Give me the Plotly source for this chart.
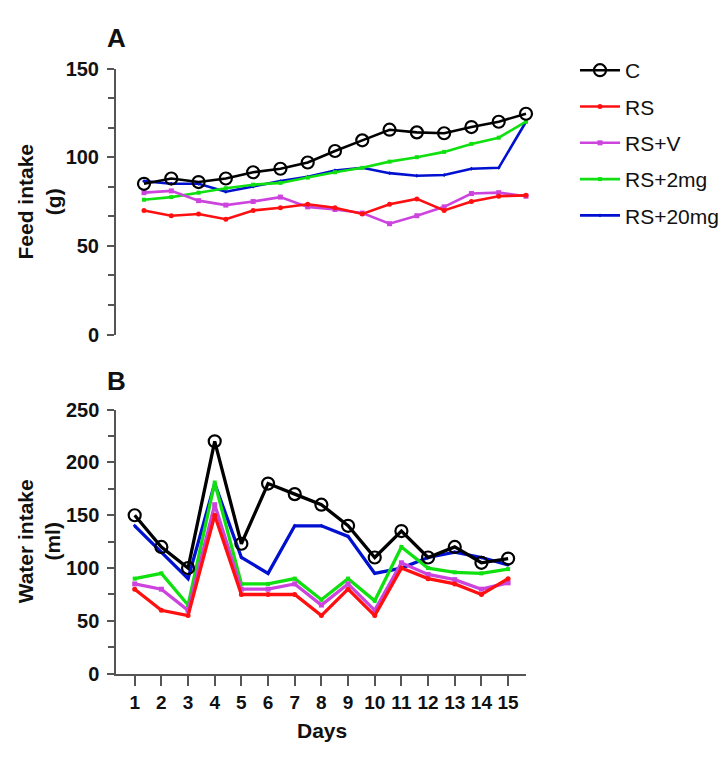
import plotly.graph_objects as go

days = list(range(1, 16))
series_names = ["C", "RS", "RS+V", "RS+2mg", "RS+20mg"]

# Panel A: Feed intake (g)
feed_C = [85, 88, 86, 88, 91.5, 93.5, 97, 103.5, 109.5, 115.5, 114, 113.5, 117, 120, 124.5]
feed_RS = [70, 67, 68, 65, 70, 71.5, 73.5, 71.5, 68, 73.5, 76.5, 70, 75, 78, 78.5]
feed_RSV = [80, 81, 75.5, 73, 75, 77.5, 72, 70.5, 68.5, 62.5, 67, 72, 79.5, 80, 78]
feed_RS2 = [76, 77.5, 80, 82.5, 84.5, 85.5, 88.5, 91.5, 94, 97.5, 100, 103, 107.5, 111, 120]
feed_RS20 = [86.5, 85, 85, 80.5, 83.5, 86.5, 89, 92.5, 94, 91, 89.5, 90, 93.5, 94, 120]

# Panel B: Water intake (ml)
water_C = [150, 120, 100, 220, 123, 180, 170, 160, 140, 110, 135, 110, 120, 105, 109]
water_RS = [80, 60, 55, 150, 75, 75, 75, 55, 80, 55, 100, 90, 85, 75, 90]
water_RSV = [85, 80, 60, 160, 80, 80, 85, 65, 85, 60, 105, 94, 89, 80, 86]
water_RS2 = [90, 95, 65, 181, 85, 85, 90, 70, 90, 69, 120, 100, 96, 95, 99]
water_RS20 = [140, 115, 90, 180, 110, 95, 140, 140, 130, 95, 100, 110, 115, 110, 103]

feed = [feed_C, feed_RS, feed_RSV, feed_RS2, feed_RS20]
water = [water_C, water_RS, water_RSV, water_RS2, water_RS20]

colors = ["#000000", "#FF1010", "#CC44DD", "#10E010", "#0010D0"]
symbols = ["circle-open", "circle", "square", "square", "diamond"]
msizes = [12, 5, 5, 4, 3]

W, H = 728, 757
FONT = "Liberation Sans, Arial, sans-serif"

def px(x):
    return x / W

def py(y):
    return 1 - y / H

fig = go.Figure()

draw_order = [4, 3, 2, 1, 0]
for i in draw_order:
    marker = dict(color=colors[i], symbol=symbols[i], size=msizes[i])
    if i == 0:
        marker["line"] = dict(color="#000000", width=2.2)
    fig.add_trace(go.Scatter(
        x=days, y=feed[i], mode="lines+markers", name=series_names[i],
        line=dict(color=colors[i], width=2.6), marker=marker,
        xaxis="x", yaxis="y", legendrank=i + 1, legendgroup=series_names[i],
        cliponaxis=False, showlegend=True,
    ))
for i in draw_order:
    marker = dict(color=colors[i], symbol=symbols[i], size=msizes[i])
    if i == 0:
        marker["line"] = dict(color="#000000", width=2.2)
    fig.add_trace(go.Scatter(
        x=days, y=water[i], mode="lines+markers", name=series_names[i],
        line=dict(color=colors[i], width=3.3), marker=marker,
        xaxis="x2", yaxis="y2", legendgroup=series_names[i],
        cliponaxis=False, showlegend=False,
    ))

axis_col = "#555555"
tickfont = dict(family=FONT, size=20, color="#111111", weight="bold")

fig.update_layout(
    width=W, height=H,
    margin=dict(l=0, r=0, t=0, b=0),
    paper_bgcolor="white", plot_bgcolor="white",
    font=dict(family=FONT),
    xaxis=dict(domain=[px(108), px(536)], range=[-0.026, 15.66], visible=False,
               anchor="y"),
    yaxis=dict(domain=[py(325), py(51)], range=[0, 150], anchor="x",
               showgrid=False, zeroline=False, showline=True, linecolor=axis_col,
               linewidth=2, ticks="outside", ticklen=7, tickwidth=2, tickcolor=axis_col,
               tickvals=[0, 50, 100, 150], tickfont=tickfont, ticklabelstandoff=4,
               minor=dict(tickvals=[50/3, 100/3, 200/3, 250/3, 350/3, 400/3],
                          ticks="outside", ticklen=6, tickwidth=1.5, tickcolor=axis_col)),
    xaxis2=dict(domain=[px(108.3), px(517.7)], range=[0.31, 15.66], anchor="y2",
                showgrid=False, zeroline=False, showline=True, linecolor=axis_col,
                linewidth=2, ticks="outside", ticklen=10, tickwidth=2, tickcolor=axis_col,
                tickvals=days, tickfont=dict(family=FONT, size=19, color="#111111", weight="bold")),
    yaxis2=dict(domain=[py(674.3), py(402.3)], range=[0, 250], anchor="x2",
                showgrid=False, zeroline=False, showline=True, linecolor=axis_col,
                linewidth=2, ticks="outside", ticklen=7, tickwidth=2, tickcolor=axis_col,
                tickvals=[0, 50, 100, 150, 200, 250], tickfont=tickfont, ticklabelstandoff=4,
                minor=dict(tickvals=[25, 75, 125, 175, 225],
                           ticks="outside", ticklen=6, tickwidth=1.5, tickcolor=axis_col)),
    legend=dict(x=px(567), y=py(32), xanchor="left", yanchor="top",
                font=dict(family=FONT, size=21, color="#111111"),
                bgcolor="rgba(0,0,0,0)", tracegroupgap=6, itemwidth=40),
    showlegend=True,
)

title_font = dict(family=FONT, size=21, color="#111111", weight="bold")
fig.add_annotation(text="Feed intake<br>(g)", x=px(31), y=py(188), xref="paper", yref="paper",
                   textangle=-90, showarrow=False, font=title_font, xanchor="center", yanchor="middle")
fig.add_annotation(text="Water intake<br>(ml)", x=px(31), y=py(538), xref="paper", yref="paper",
                   textangle=-90, showarrow=False, font=title_font, xanchor="center", yanchor="middle")
fig.add_annotation(text="Days", x=px(314), y=py(733), xref="paper", yref="paper",
                   showarrow=False, font=title_font, xanchor="center", yanchor="middle")
letter_font = dict(family=FONT, size=26, color="#111111", weight="bold")
fig.add_annotation(text="A", x=px(108), y=py(20), xref="paper", yref="paper",
                   showarrow=False, font=letter_font, xanchor="center", yanchor="middle")
fig.add_annotation(text="B", x=px(108), y=py(373), xref="paper", yref="paper",
                   showarrow=False, font=letter_font, xanchor="center", yanchor="middle")

fig.write_html("out.html")
